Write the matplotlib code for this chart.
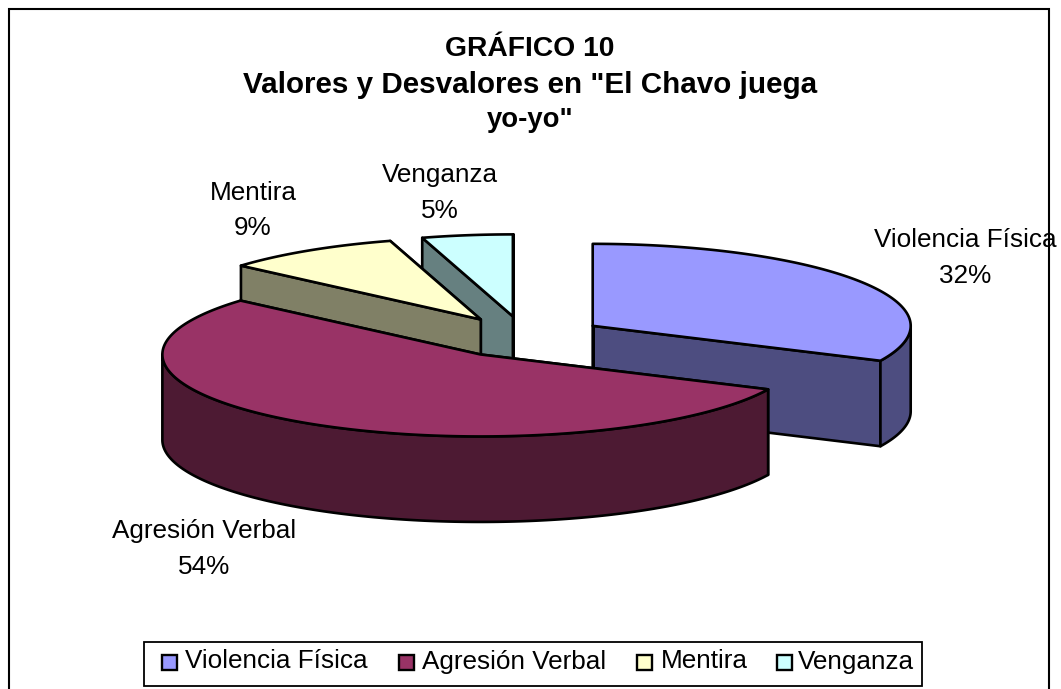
import numpy as np
import matplotlib
matplotlib.use("Agg")
import matplotlib.pyplot as plt
from matplotlib.patches import Rectangle

categories = ["Violencia Física", "Agresión Verbal", "Mentira", "Venganza"]
values = [32.0, 54.4, 9.0, 4.6]
percent_labels = ["32%", "54%", "9%", "5%"]
title_lines = ["GRÁFICO 10", "Valores y Desvalores en \"El Chavo juega", "yo-yo\""]

top_colors = ["#9999FF", "#993366", "#FFFFCC", "#CCFFFF"]
side_colors = ["#4D4D80", "#4D1A33", "#808066", "#668080"]

W, H = 1061, 689
CX, CY = 524.5, 337.0
RX, RY = 318.0, 82.0
DEPTH = 85.5
EXPLODE = 0.254
LW = 1.9

fig = plt.figure(figsize=(W / 100, H / 100), dpi=100)
ax = fig.add_axes([0, 0, 1, 1])
ax.set_xlim(0, W)
ax.set_ylim(H, 0)
ax.axis("off")
plt.rcParams["font.family"] = ["Liberation Sans", "DejaVu Sans"]

ax.add_patch(Rectangle((9, 9), 1040, 700, fc="white", ec="black", lw=1.5, zorder=0))

cum = np.concatenate([[0], np.cumsum(values)]) / sum(values) * 2 * np.pi


def rim(c, a0, a1):
    t = np.linspace(a0, a1, max(int((a1 - a0) * 60), 2))
    return np.column_stack([c[0] + RX * np.sin(t), c[1] - RY * np.cos(t)])


def poly(pts, color, z):
    ax.fill(pts[:, 0], pts[:, 1], facecolor=color, edgecolor="black", lw=LW,
            joinstyle="round", zorder=z)


centers = []
for a0, a1 in zip(cum[:-1], cum[1:]):
    m = (a0 + a1) / 2
    centers.append((CX + EXPLODE * RX * np.sin(m), CY - EXPLODE * RY * np.cos(m)))

down = np.array([0, DEPTH])
for z, i in enumerate([3, 2, 0, 1]):
    a0, a1 = cum[i], cum[i + 1]
    c = np.array(centers[i])
    zb = 2 + z * 4
    for k, ang in enumerate((a1, a0)):
        e = rim(c, ang, ang + 1e-6)[0]
        poly(np.array([c, e, e + down, c + down]), side_colors[i], zb + k * 0.5)
    lo, hi = max(a0, np.pi / 2), min(a1, 3 * np.pi / 2)
    if hi > lo:
        arc = rim(c, lo, hi)
        poly(np.vstack([arc, arc[::-1] + down]), side_colors[i], zb + 1)
    t = rim(c, a0, a1)
    poly(np.vstack([c, t]), top_colors[i], zb + 2)

lab_pos = [(965, 258), (204, 549), (253, 210.5), (440, 193)]
for name, pct, (x, y) in zip(categories, percent_labels, lab_pos):
    ax.text(x, y, name + "\n" + pct, ha="center", va="center", fontsize=18.8,
            linespacing=1.6, color="black", zorder=40)

title_sizes = [20.3, 21.3, 19.8]
for s, y, fs in zip(title_lines, (49, 85, 120), title_sizes):
    ax.text(530, y, s, ha="center", va="center", fontsize=fs, fontweight="bold", zorder=40)

ax.add_patch(Rectangle((144, 642), 778, 44, fc="white", ec="black", lw=1.3, zorder=41))
leg_sw = [162, 399, 637, 777]
leg_tx = [185, 422, 661, 798]
for name, col, sx, tx in zip(categories, top_colors, leg_sw, leg_tx):
    ax.add_patch(Rectangle((sx, 655), 14.5, 15, fc=col, ec="black", lw=1.7, zorder=42))
    ax.text(tx, 661.5, name, ha="left", va="center", fontsize=18.8, zorder=42)

fig.savefig("out.png", dpi=100)
